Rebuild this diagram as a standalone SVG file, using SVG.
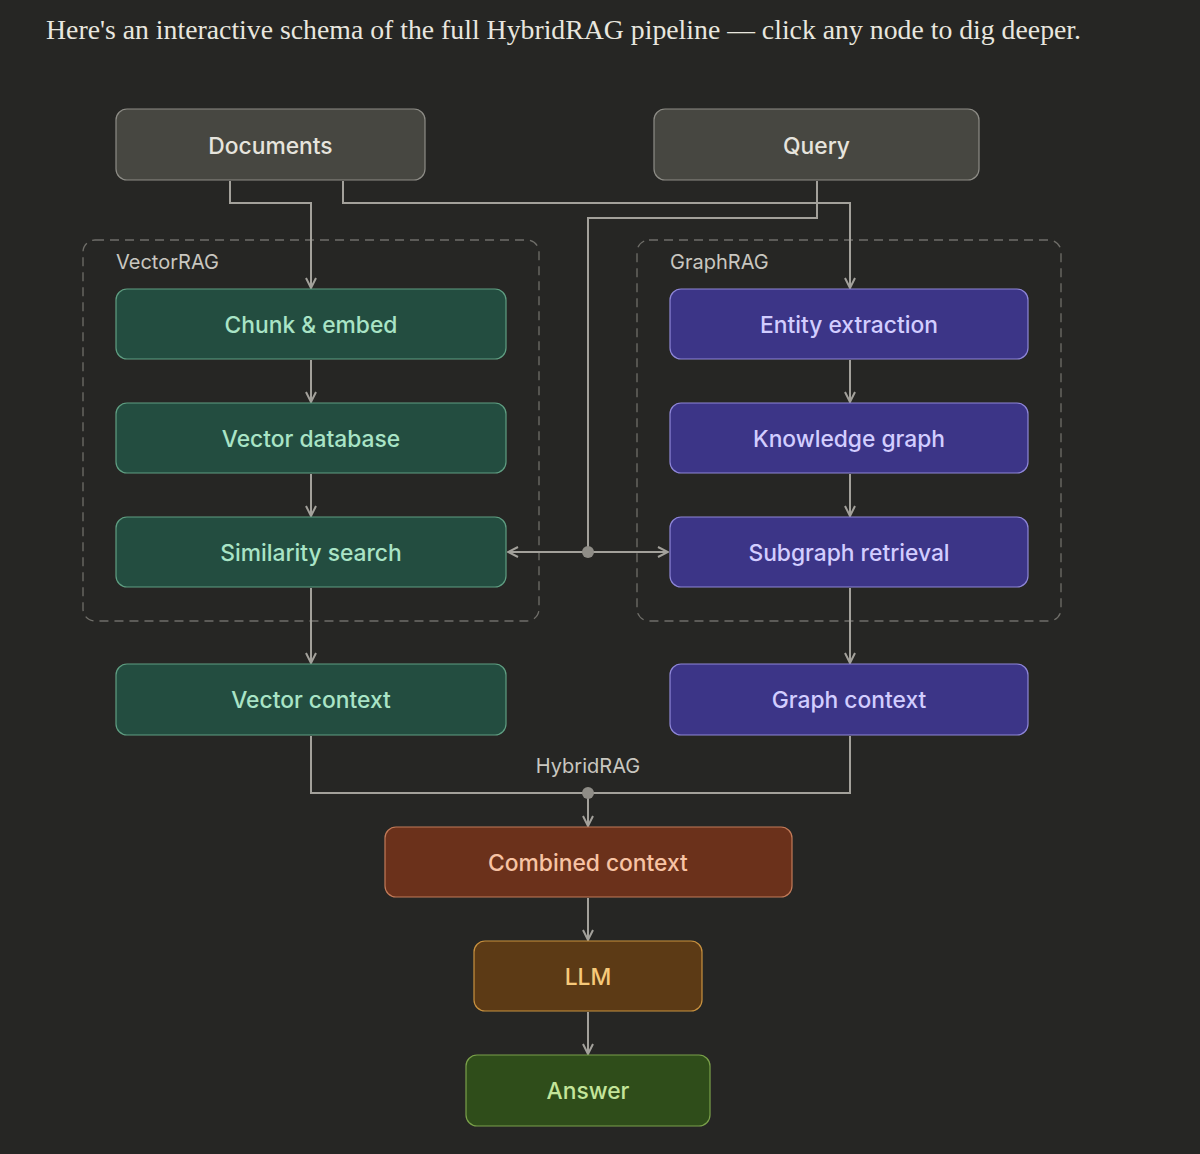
<svg xmlns="http://www.w3.org/2000/svg" width="1200" height="1154" viewBox="0 0 1200 1154">
<defs>
<style>
.bg{fill:#262624}
.hdr{font-family:"Liberation Serif","DejaVu Serif",serif;font-size:27.75px;fill:#e8e6df}
.lbl{font-family:Inter,"Liberation Sans",sans-serif;font-size:22.8px;font-weight:500;text-anchor:middle;dominant-baseline:central}
.grp{fill:none;stroke:#6f6e69;stroke-width:1.3;stroke-dasharray:9 6}
.glbl{font-family:Inter,"Liberation Sans",sans-serif;font-size:20px;fill:#c9c7c0}
.gray rect{fill:#474741;stroke:#8d8c86;stroke-width:1.2}
.gray text{fill:#e6e4dd}
.green rect{fill:#234d40;stroke:#5f9e82;stroke-width:1.2}
.green text{fill:#a9e4c6}
.purple rect{fill:#3c3587;stroke:#8e86d8;stroke-width:1.2}
.purple text{fill:#d2cdff}
.coral rect{fill:#6b311b;stroke:#c27a58;stroke-width:1.2}
.coral text{fill:#f7c3a4}
.amber rect{fill:#5c3a15;stroke:#c8913f;stroke-width:1.2}
.amber text{fill:#f6c97a}
.lime rect{fill:#2f4d1a;stroke:#7aa04a;stroke-width:1.2}
.lime text{fill:#c4e59a}
.edge{fill:none;stroke:#a3a19b;stroke-width:2}
.dot{fill:#8f8d87}
</style>
<marker id="arr" viewBox="0 0 12 12" refX="11" refY="6" markerWidth="12" markerHeight="12" markerUnits="userSpaceOnUse" orient="auto">
<path d="M1 1 L11 6 L1 11" fill="none" stroke="#a3a19b" stroke-width="2"/>
</marker>
</defs>
<rect class="bg" x="0" y="0" width="1200" height="1154"/>
<text class="hdr" x="46" y="39" textLength="1035" lengthAdjust="spacing">Here's an interactive schema of the full HybridRAG pipeline — click any node to dig deeper.</text>

<g id="group-vectorrag">
<rect class="grp" x="83" y="240" width="456" height="381" rx="12"/>
<text class="glbl" x="116" y="269">VectorRAG</text>
</g>
<g id="group-graphrag">
<rect class="grp" x="637" y="240" width="424" height="381" rx="12"/>
<text class="glbl" x="670" y="269">GraphRAG</text>
</g>

<g id="connectors">
<path class="edge" d="M230 181 V203 H311 V288" marker-end="url(#arr)"/>
<path class="edge" d="M343 181 V203 H850 V288" marker-end="url(#arr)"/>
<path class="edge" d="M817 181 V218 H588 V552"/>
<path class="edge" d="M588 552 H508" marker-end="url(#arr)"/>
<path class="edge" d="M588 552 H668" marker-end="url(#arr)"/>
<circle class="dot" cx="588" cy="552" r="6"/>
<path class="edge" d="M311 360 V402" marker-end="url(#arr)"/>
<path class="edge" d="M311 474 V516" marker-end="url(#arr)"/>
<path class="edge" d="M311 588 V663" marker-end="url(#arr)"/>
<path class="edge" d="M850 360 V402" marker-end="url(#arr)"/>
<path class="edge" d="M850 474 V516" marker-end="url(#arr)"/>
<path class="edge" d="M850 588 V663" marker-end="url(#arr)"/>
<path class="edge" d="M311 736 V793 H850 V736"/>
<path class="edge" d="M588 793 V826" marker-end="url(#arr)"/>
<circle class="dot" cx="588" cy="793" r="6"/>
<text class="glbl" x="588" y="773" text-anchor="middle">HybridRAG</text>
<path class="edge" d="M588 898 V940" marker-end="url(#arr)"/>
<path class="edge" d="M588 1012 V1054" marker-end="url(#arr)"/>
</g>

<g id="documents" class="gray"><rect x="116" y="109" width="309" height="71" rx="11"/><text class="lbl" x="270.5" y="145">Documents</text></g>
<g id="query" class="gray"><rect x="654" y="109" width="325" height="71" rx="11"/><text class="lbl" x="816.5" y="145">Query</text></g>

<g id="chunk-embed" class="green"><rect x="116" y="289" width="390" height="70" rx="11"/><text class="lbl" x="311" y="324">Chunk &amp; embed</text></g>
<g id="vector-database" class="green"><rect x="116" y="403" width="390" height="70" rx="11"/><text class="lbl" x="311" y="438">Vector database</text></g>
<g id="similarity-search" class="green"><rect x="116" y="517" width="390" height="70" rx="11"/><text class="lbl" x="311" y="552">Similarity search</text></g>
<g id="vector-context" class="green"><rect x="116" y="664" width="390" height="71" rx="11"/><text class="lbl" x="311" y="699">Vector context</text></g>

<g id="entity-extraction" class="purple"><rect x="670" y="289" width="358" height="70" rx="11"/><text class="lbl" x="849" y="324">Entity extraction</text></g>
<g id="knowledge-graph" class="purple"><rect x="670" y="403" width="358" height="70" rx="11"/><text class="lbl" x="849" y="438">Knowledge graph</text></g>
<g id="subgraph-retrieval" class="purple"><rect x="670" y="517" width="358" height="70" rx="11"/><text class="lbl" x="849" y="552">Subgraph retrieval</text></g>
<g id="graph-context" class="purple"><rect x="670" y="664" width="358" height="71" rx="11"/><text class="lbl" x="849" y="699">Graph context</text></g>

<g id="combined-context" class="coral"><rect x="385" y="827" width="407" height="70" rx="11"/><text class="lbl" x="588" y="862">Combined context</text></g>
<g id="llm" class="amber"><rect x="474" y="941" width="228" height="70" rx="11"/><text class="lbl" x="588" y="976">LLM</text></g>
<g id="answer" class="lime"><rect x="466" y="1055" width="244" height="71" rx="11"/><text class="lbl" x="588" y="1090">Answer</text></g>
</svg>
